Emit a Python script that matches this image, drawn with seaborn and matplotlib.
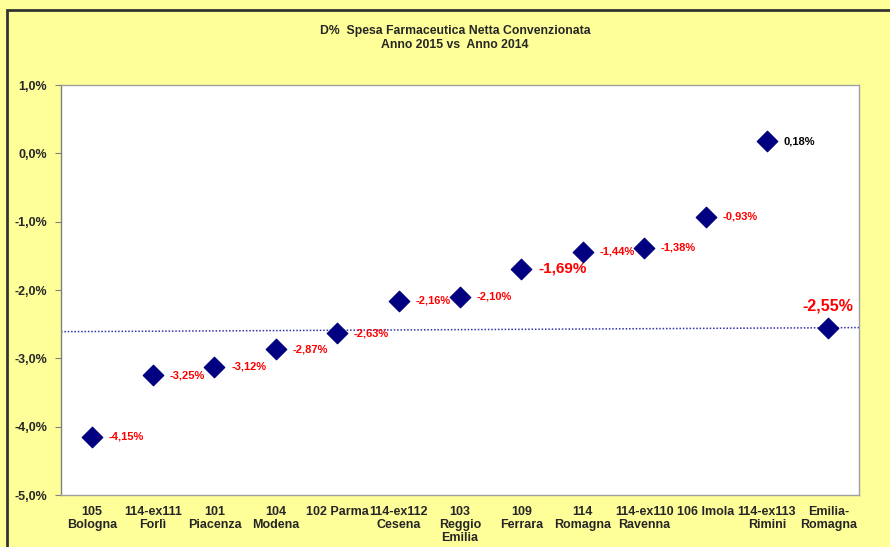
import matplotlib
matplotlib.use("Agg")
import matplotlib.pyplot as plt
import seaborn as sns
import pandas as pd
import numpy as np
from matplotlib.patches import Rectangle

categories = ["105\nBologna", "114-ex111\nForlì", "101\nPiacenza", "104\nModena", "102 Parma",
              "114-ex112\nCesena", "103\nReggio\nEmilia", "109\nFerrara", "114\nRomagna",
              "114-ex110\nRavenna", "106 Imola", "114-ex113\nRimini", "Emilia-\nRomagna"]
values = [-4.15, -3.25, -3.12, -2.87, -2.63, -2.16, -2.10, -1.69, -1.44, -1.38, -0.93, 0.18, -2.55]
labels = ["-4,15%", "-3,25%", "-3,12%", "-2,87%", "-2,63%", "-2,16%", "-2,10%", "-1,69%",
          "-1,44%", "-1,38%", "-0,93%", "0,18%", "-2,55%"]
ref_line = [-2.61, -2.55]
yticks = [1.0, 0.0, -1.0, -2.0, -3.0, -4.0, -5.0]
ytick_labels = ["1,0%", "0,0%", "-1,0%", "-2,0%", "-3,0%", "-4,0%", "-5,0%"]

sns.set_style("white")
plt.rcParams['font.family'] = ['Liberation Sans', 'DejaVu Sans']

df = pd.DataFrame({"cat": categories, "val": values, "x": np.arange(len(categories))})

fig = plt.figure(figsize=(8.9, 5.47), dpi=100)
fig.patch.set_facecolor("#FFFF99")
fig.add_artist(Rectangle((7/890, -0.1), 1.1, 1 - 10/547 + 0.1, transform=fig.transFigure,
                         fill=False, edgecolor="#333333", linewidth=2))

ax = fig.add_axes([61/890, 1 - 495/547, 798/890, 410/547])
ax.set_facecolor("white")

ax.plot([-0.5, len(categories) - 0.5], ref_line, linestyle=(0, (1, 1.2)), color="#3333AA", linewidth=1.1, zorder=2)
sns.scatterplot(data=df, x="x", y="val", marker="D", s=110, color="#000080", edgecolor="#000080", ax=ax, zorder=3, legend=False)

for i, (v, lab) in enumerate(zip(values, labels)):
    if lab == "-2,55%":
        ax.text(i, v + 0.2, lab, color="#FF0000", fontsize=11.5, fontweight="bold", ha="center", va="bottom")
    elif lab == "-1,69%":
        ax.annotate(lab, (i, v), xytext=(12, 0), textcoords="offset points", color="#FF0000", fontsize=11,
                    fontweight="bold", va="center", ha="left")
    elif lab == "0,18%":
        ax.annotate(lab, (i, v), xytext=(12, 0), textcoords="offset points", color="#000000", fontsize=8,
                    fontweight="bold", va="center", ha="left")
    else:
        ax.annotate(lab, (i, v), xytext=(12, 0), textcoords="offset points", color="#FF0000", fontsize=8,
                    fontweight="bold", va="center", ha="left")

ax.set_xlim(-0.5, len(categories) - 0.5)
ax.set_ylim(-5.0, 1.0)
ax.set_yticks(yticks)
ax.set_yticklabels(ytick_labels, fontsize=9, fontweight="bold")
ax.set_xticks(df["x"])
ax.set_xticklabels(categories, fontsize=9, fontweight="bold", linespacing=1.1)
ax.tick_params(axis="y", length=4, color="#808080", direction="out", left=True, pad=6)
ax.tick_params(axis="x", length=0, pad=8)
ax.set_xlabel("")
ax.set_ylabel("")
for s in ax.spines.values():
    s.set_color("#A0A0A0")
    s.set_linewidth(1)
ax.spines["left"].set_color("#808080")

fig.text(455/890, 1 - 38/547, "D%  Spesa Farmaceutica Netta Convenzionata\nAnno 2015 vs  Anno 2014",
         ha="center", va="center", fontsize=8.8, fontweight="bold", linespacing=1.15)

fig.savefig("out.png", dpi=100, facecolor=fig.get_facecolor())
